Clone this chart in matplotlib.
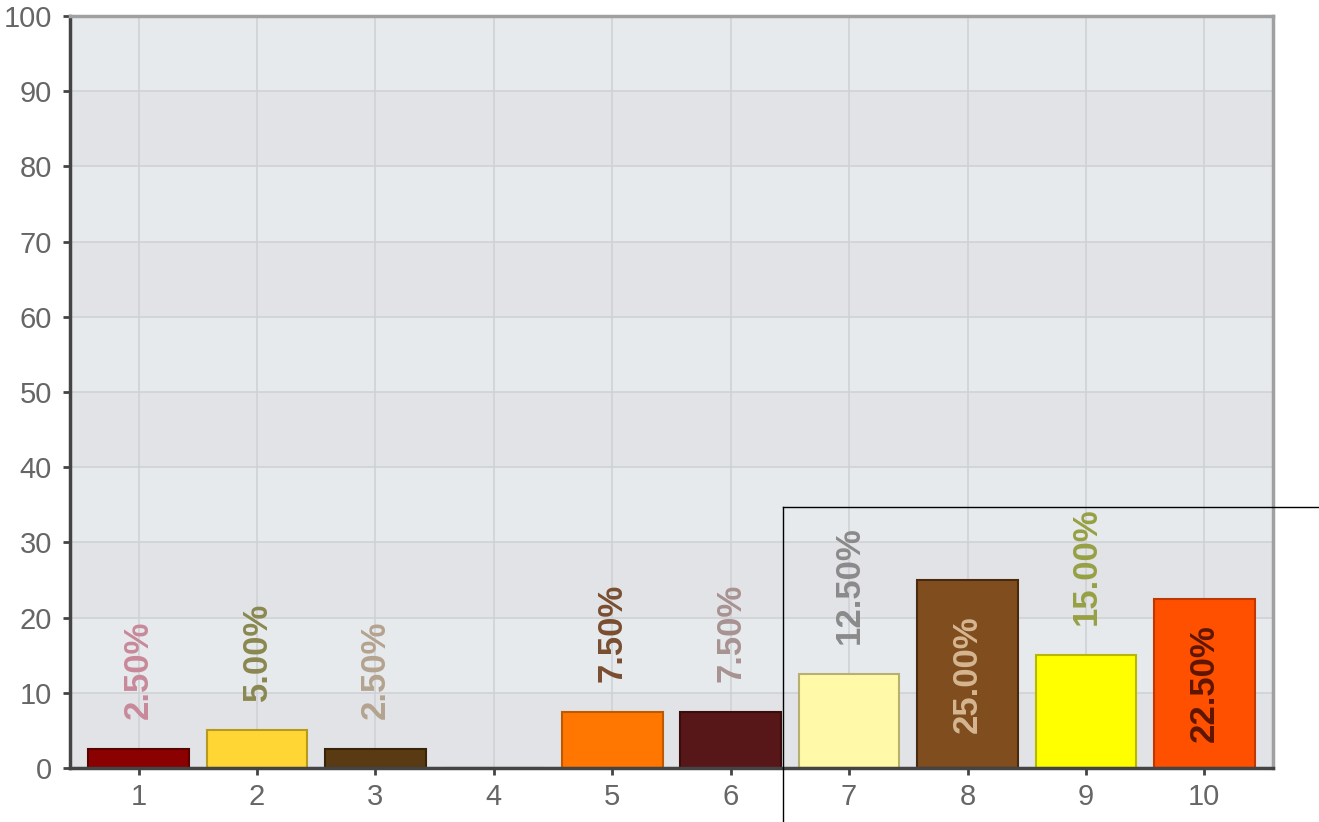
import matplotlib
matplotlib.use("Agg")
import matplotlib.pyplot as plt
from matplotlib.lines import Line2D

categories = [1, 2, 3, 4, 5, 6, 7, 8, 9, 10]
values = [2.5, 5.0, 2.5, 0.0, 7.5, 7.5, 12.5, 25.0, 15.0, 22.5]
labels = ["2.50%", "5.00%", "2.50%", "", "7.50%", "7.50%", "12.50%", "25.00%", "15.00%", "22.50%"]
bar_colors = ["#8b0000", "#ffd633", "#5a3a12", "#888888", "#ff7700", "#571719",
              "#fff9a8", "#804d1e", "#ffff00", "#ff5000"]
edge_colors = ["#5a0000", "#b89a20", "#3a2408", "#666666", "#c05800", "#3a0c0c",
               "#b8b070", "#4a2a0c", "#b8b800", "#c03800"]
label_colors = ["#c8899a", "#8a8850", "#b3a38f", "#888888", "#7a4e30", "#a89292",
                "#8a8a8a", "#d6b690", "#98a044", "#5e1600"]
yticks = [0, 10, 20, 30, 40, 50, 60, 70, 80, 90, 100]

plt.rcParams['font.family'] = ['Liberation Sans', 'DejaVu Sans']

fig = plt.figure(figsize=(13.19, 8.22), dpi=100)
ax = fig.add_axes([70/1319, 1-768/822, (1273-70)/1319, (768-16)/822])

ax.set_xlim(0.42, 10.58)
ax.set_ylim(0, 100)
ax.set_facecolor("#e7eaed")

# alternating bands
for lo in range(0, 100, 20):
    ax.axhspan(lo, lo + 10, color="#e1e3e6", zorder=0, lw=0)

ax.set_xticks(categories)
ax.set_yticks(yticks)
ax.grid(True, color="#cfd2d5", lw=1.2, zorder=0.5)
ax.set_axisbelow(True)

bars = ax.bar(categories, values, width=0.85, color=bar_colors,
              edgecolor=edge_colors, linewidth=1.5, zorder=2)

for x, v, lab, c in zip(categories, values, labels, label_colors):
    if not lab:
        continue
    if v > 20:
        ax.text(x, v / 2, lab, rotation=90, ha="center", va="center",
                fontsize=25, fontweight="bold", color=c, zorder=3)
    else:
        ax.annotate(lab, (x, v), xytext=(0, 21.5), textcoords="offset points",
                    rotation=90, ha="center", va="bottom",
                    fontsize=25, fontweight="bold", color=c, zorder=3)

for s in ["left", "bottom"]:
    ax.spines[s].set_color("#444444")
    ax.spines[s].set_linewidth(2.5)
for s in ["top", "right"]:
    ax.spines[s].set_color("#a0a0a0")
    ax.spines[s].set_linewidth(2.5)

ax.tick_params(axis="both", colors="#444444", labelcolor="#666666",
               labelsize=21, length=5, width=2, direction="out")
ax.tick_params(axis="y", pad=8)
ax.tick_params(axis="x", pad=6)

# stray rectangle corner lines
x0 = 783/1319
y0 = 1 - 507/822
fig.add_artist(Line2D([x0, 1.0], [y0, y0], color="black", lw=1.0, transform=fig.transFigure))
fig.add_artist(Line2D([x0, x0], [y0, 0.0], color="black", lw=1.0, transform=fig.transFigure))

fig.savefig("out.png", dpi=100, facecolor="white")
